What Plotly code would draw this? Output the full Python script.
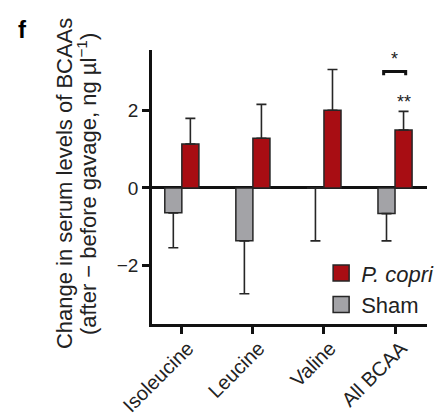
import plotly.graph_objects as go

categories = ["Isoleucine", "Leucine", "Valine", "All BCAA"]
sham_values = [-0.64, -1.36, 0.0, -0.66]
sham_err = [0.90, 1.36, 1.36, 0.70]
copri_values = [1.13, 1.28, 2.0, 1.49]
copri_err = [0.66, 0.87, 1.05, 0.48]
y_ticks = [-2, 0, 2]
y_title_lines = ["Change in serum levels of BCAAs",
                 "(after − before gavage, ng µl<sup>−1</sup>)"]
legend_names = ["<i>P. copri</i>", "Sham"]

FONT = "Liberation Sans, Arial, Helvetica, sans-serif"
RED = "#a80d13"
GRAY = "#a3a3a7"
EDGE = "#262626"

fig = go.Figure()
fig.add_trace(go.Bar(
    x=categories, y=sham_values, name="Sham", showlegend=False,
    marker=dict(color=GRAY, line=dict(color=EDGE, width=1.5)),
    error_y=dict(type="data", symmetric=False, array=[0] * 4, arrayminus=sham_err,
                 color=EDGE, thickness=1.6, width=5),
))
fig.add_trace(go.Bar(
    x=categories, y=copri_values, name="P. copri", showlegend=False,
    marker=dict(color=RED, line=dict(color=EDGE, width=1.5)),
    error_y=dict(type="data", symmetric=False, array=copri_err, arrayminus=[0] * 4,
                 color=EDGE, thickness=1.6, width=5),
))
# legend entries (larger square swatches, as in the original)
for name, col in zip(legend_names, [RED, GRAY]):
    fig.add_trace(go.Scatter(
        x=[None], y=[None], mode="markers", name=name,
        marker=dict(symbol="square", size=16, color=col, line=dict(color=EDGE, width=1.5)),
    ))

# significance marks
fig.add_shape(type="path", path="M 2.84,2.9 L 2.84,3.0 L 3.15,3.0 L 3.15,2.9",
              line=dict(color="#111", width=3), xref="x", yref="y")
fig.add_annotation(x=2.99, y=3.33, text="*", showarrow=False,
                   font=dict(family=FONT, size=18, color="#222"))
fig.add_annotation(x=3.12, y=2.2, text="**", showarrow=False,
                   font=dict(family=FONT, size=18, color="#222"))
fig.add_annotation(x=-0.495, y=1.13, xref="paper", yref="paper", text="<b>f</b>",
                   showarrow=False, font=dict(family=FONT, size=24, color="#000"))
for line, xp in zip(y_title_lines, [-0.316, -0.236]):
    fig.add_annotation(x=xp, y=0.511, xref="paper", yref="paper", text=line,
                       textangle=-90, showarrow=False, xanchor="center", yanchor="middle",
                       font=dict(family=FONT, size=22, color="#222"))

fig.update_layout(
    width=434, height=408,
    margin=dict(l=144, r=15, t=42, b=92, autoexpand=False),
    paper_bgcolor="white", plot_bgcolor="white",
    barmode="group", bargap=0.52, bargroupgap=0,
    font=dict(family=FONT, size=19, color="#222"),
    showlegend=True,
    legend=dict(x=0.615, y=0.262, xanchor="left", yanchor="top",
                traceorder="normal", font=dict(size=22), itemsizing="trace",
                bgcolor="rgba(0,0,0,0)", tracegroupgap=0),
)
fig.update_xaxes(
    range=[-0.42, 3.45], showline=True, linecolor="#111", linewidth=2.5,
    ticks="outside", ticklen=7, tickwidth=2.5, tickcolor="#111",
    tickangle=-45, tickfont=dict(size=20), ticklabelshift=6, ticklabelstandoff=-5,
    showgrid=False, automargin=False,
)
fig.update_yaxes(
    range=[-3.5, 3.55], tickvals=y_ticks, showline=True, linecolor="#111", linewidth=2.5,
    ticks="outside", ticklen=7, tickwidth=2.5, tickcolor="#111",
    showgrid=False, zeroline=True, zerolinecolor="#111", zerolinewidth=2.5,
    tickfont=dict(size=19), automargin=False,
)

fig.write_html("out.html")
